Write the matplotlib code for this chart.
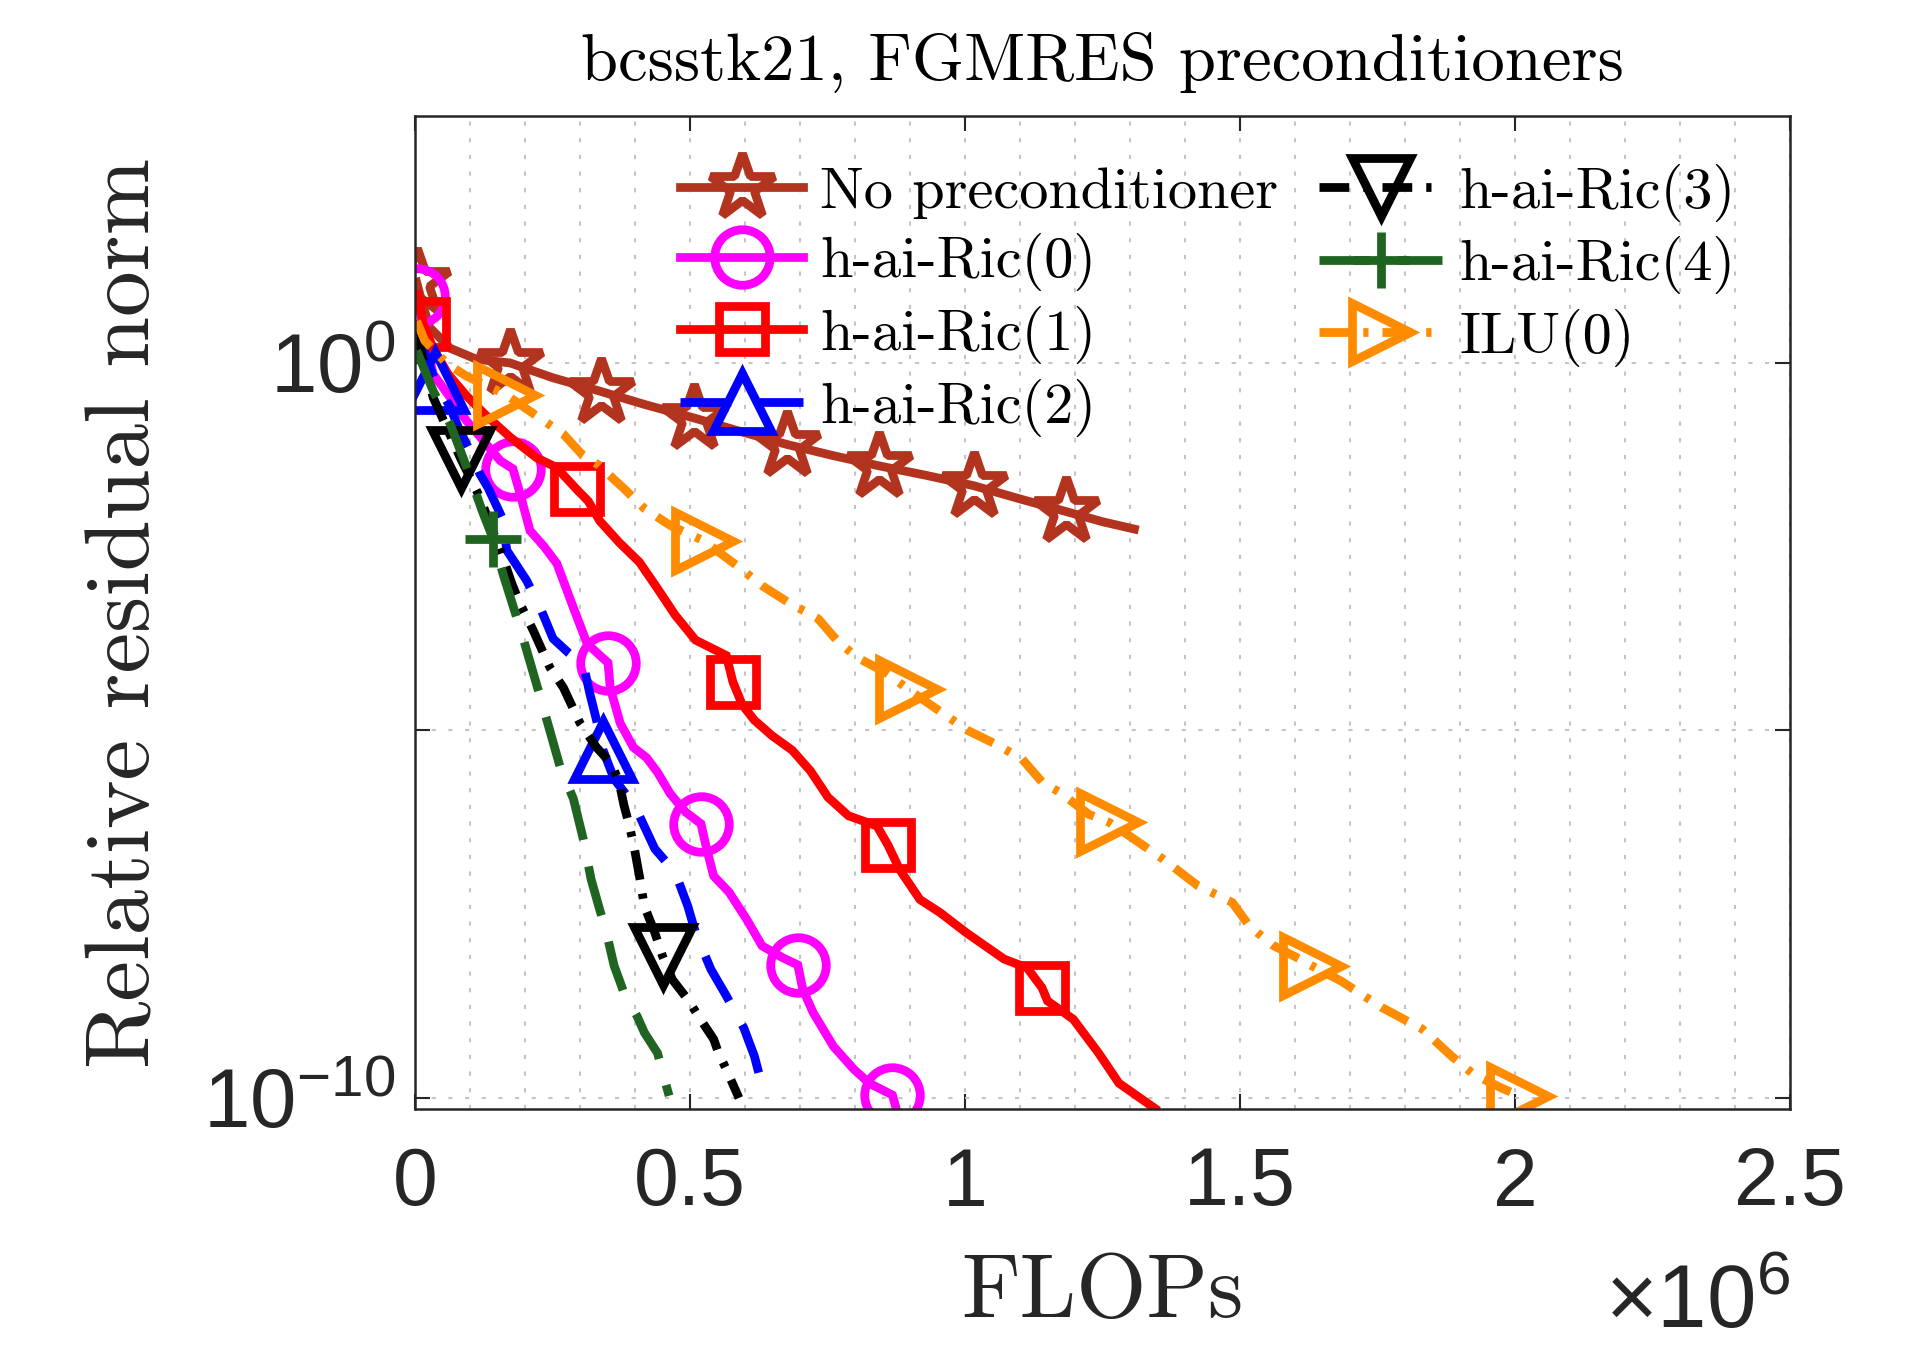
import numpy as np
import matplotlib
matplotlib.use("Agg")
import matplotlib.pyplot as plt
from matplotlib.ticker import MultipleLocator, NullLocator

plt.rcParams['mathtext.fontset'] = 'custom'
plt.rcParams['mathtext.rm'] = 'Liberation Sans'
plt.rcParams['mathtext.it'] = 'Liberation Sans:italic'
plt.rcParams['mathtext.bf'] = 'Liberation Sans:bold'

# ---------------- data (x in units of 1e6 FLOPs, y as log10 of relative residual) ----
labels = ["No preconditioner", "h-ai-Ric(0)", "h-ai-Ric(1)", "h-ai-Ric(2)",
          "h-ai-Ric(3)", "h-ai-Ric(4)", "ILU(0)"]

none_x = [0.003, 0.012, 0.027, 0.064, 0.112, 0.173, 0.25, 0.339, 0.42, 0.508, 0.6,
          0.677, 0.76, 0.844, 0.93, 1.016, 1.1, 1.183, 1.25, 1.308]
none_logy = [1.1, 0.84, 0.48, 0.2, 0.05, 0.0, -0.2, -0.39, -0.57, -0.75, -0.95,
             -1.11, -1.26, -1.4, -1.53, -1.67, -1.85, -2.02, -2.16, -2.26]
none_marks = [0, 5, 7, 9, 11, 13, 15, 17]

ric0_x = [0.003, 0.033, 0.064, 0.094, 0.155, 0.178, 0.19, 0.209, 0.235, 0.258, 0.288,
          0.313, 0.351, 0.355, 0.373, 0.397, 0.421, 0.441, 0.464, 0.492, 0.52, 0.529,
          0.543, 0.571, 0.603, 0.631, 0.668, 0.696, 0.705, 0.724, 0.761, 0.798, 0.826,
          0.868, 0.874]
ric0_logy = [0.91, -0.15, -0.47, -0.79, -1.33, -1.44, -1.75, -2.28, -2.5, -2.73, -3.33,
             -3.82, -4.08, -4.42, -4.9, -5.23, -5.37, -5.57, -5.86, -6.11, -6.27, -6.57,
             -6.98, -7.2, -7.57, -7.93, -8.09, -8.19, -8.52, -8.84, -9.3, -9.61, -9.8,
             -9.96, -10.12]
ric0_marks = [0, 5, 12, 20, 27, 33]

ric1_x = [0.005, 0.015, 0.033, 0.06, 0.094, 0.13, 0.173, 0.221, 0.257, 0.294, 0.315,
          0.336, 0.371, 0.408, 0.441, 0.473, 0.51, 0.566, 0.578, 0.595, 0.617, 0.649,
          0.686, 0.719, 0.751, 0.788, 0.84, 0.86, 0.881, 0.918, 0.955, 1.002, 1.071,
          1.113, 1.14, 1.15, 1.197, 1.243, 1.28, 1.345]
ric1_logy = [0.93, 0.53, 0.2, -0.15, -0.45, -0.72, -1.01, -1.29, -1.42, -1.72, -1.88,
             -2.15, -2.44, -2.71, -3.07, -3.43, -3.77, -3.98, -4.34, -4.65, -4.86, -5.07,
             -5.27, -5.55, -5.91, -6.16, -6.3, -6.56, -6.89, -7.3, -7.48, -7.75, -8.11,
             -8.23, -8.5, -8.68, -8.93, -9.39, -9.8, -10.14]
ric1_marks = [1, 9, 18, 27, 34]

ric2_x = [0.002, 0.02, 0.037, 0.064, 0.079, 0.1, 0.118, 0.133, 0.158, 0.167, 0.203,
          0.23, 0.251, 0.28, 0.306, 0.318, 0.33, 0.342, 0.362, 0.39, 0.408, 0.436,
          0.473, 0.496, 0.51, 0.538, 0.566, 0.598, 0.617, 0.637]
ric2_logy = [0.46, 0.1, -0.25, -0.6, -0.88, -1.2, -1.51, -1.7, -2.1, -2.55, -2.96,
             -3.37, -3.75, -3.95, -4.1, -4.5, -4.86, -5.27, -5.66, -5.93, -6.16, -6.61,
             -6.93, -7.39, -7.75, -8.25, -8.61, -9.05, -9.43, -10.0]
ric2_marks = [2, 17]

ric3_x = [0.002, 0.033, 0.083, 0.118, 0.16, 0.176, 0.19, 0.215, 0.245, 0.27, 0.3,
          0.33, 0.357, 0.371, 0.38, 0.39, 0.399, 0.408, 0.417, 0.436, 0.45, 0.468,
          0.496, 0.519, 0.543, 0.552, 0.566, 0.589]
ric3_logy = [0.42, -0.47, -1.3, -1.83, -2.65, -3.0, -3.26, -3.64, -4.14, -4.42, -4.9,
             -5.23, -5.45, -5.7, -6.02, -6.3, -6.61, -6.98, -7.39, -7.75, -8.07, -8.39,
             -8.66, -8.93, -9.2, -9.39, -9.61, -10.0]
ric3_marks = [2, 20]

ric4_x = [0.003, 0.033, 0.064, 0.094, 0.124, 0.142, 0.16, 0.196, 0.231, 0.264, 0.288,
          0.306, 0.32, 0.334, 0.348, 0.362, 0.38, 0.404, 0.417, 0.441, 0.459, 0.462]
ric4_logy = [0.17, -0.38, -0.83, -1.42, -2.05, -2.39, -2.87, -3.73, -4.63, -5.5, -5.93,
             -6.48, -7.02, -7.39, -7.75, -8.2, -8.57, -8.89, -9.11, -9.39, -9.89, -9.97]
ric4_marks = [5]

ilu_x = [0.003, 0.018, 0.058, 0.094, 0.165, 0.227, 0.27, 0.303, 0.334, 0.38, 0.417,
         0.464, 0.525, 0.584, 0.631, 0.677, 0.733, 0.77, 0.807, 0.853, 0.897, 0.943,
         1.005, 1.057, 1.104, 1.141, 1.172, 1.225, 1.262, 1.298, 1.36, 1.423, 1.486,
         1.517, 1.559, 1.601, 1.63, 1.684, 1.758, 1.831, 1.883, 1.925, 1.977, 2.008]
ilu_logy = [0.57, 0.3, -0.01, -0.18, -0.43, -0.75, -0.97, -1.24, -1.39, -1.71, -1.98,
            -2.21, -2.42, -2.75, -3.03, -3.25, -3.48, -3.8, -4.02, -4.2, -4.44, -4.68,
            -5.0, -5.19, -5.39, -5.71, -5.84, -6.14, -6.25, -6.43, -6.75, -7.11, -7.34,
            -7.66, -7.92, -8.08, -8.2, -8.41, -8.77, -9.06, -9.42, -9.68, -9.87, -9.97]
ilu_marks = [4, 12, 20, 28, 36, 43]

xticks = [0, 0.5, 1, 1.5, 2, 2.5]
xticklabels = ["0", "0.5", "1", "1.5", "2", "2.5"]
yticks = [1e0, 1e-5, 1e-10]
yticklabels = [r"$10^{0}$", "", r"$10^{-10}$"]

# ---------------- figure ----------------
W, H = 1922, 1353
fig = plt.figure(figsize=(W / 100, H / 100), dpi=100)
ax = fig.add_axes([415 / W, (H - 1109) / H, 1375 / W, 993 / H])

LW = 6.3
DASH = (0, (5.8, 3.1))
DASHDOT = (0, (3.4, 1.6, 0.6, 1.6))
series = [
    (none_x, none_logy, none_marks, dict(color="#B3341E", marker="*", ms=49, ls="-")),
    (ric0_x, ric0_logy, ric0_marks, dict(color="#FF00FF", marker="o", ms=40, ls="-")),
    (ric1_x, ric1_logy, ric1_marks, dict(color="#FF0000", marker="s", ms=33, ls="-")),
    (ric2_x, ric2_logy, ric2_marks, dict(color="#0000FF", marker="^", ms=42, ls=DASH)),
    (ric3_x, ric3_logy, ric3_marks, dict(color="#000000", marker="v", ms=42, ls=DASHDOT)),
    (ric4_x, ric4_logy, ric4_marks, dict(color="#1F6420", marker="+", ms=40, ls=DASH)),
    (ilu_x, ilu_logy, ilu_marks, dict(color="#FF8C00", marker=">", ms=42, ls=DASHDOT)),
]

for (xs, ly, mk, st), lab in zip(series, labels):
    ys = 10.0 ** np.array(ly)
    ax.plot(xs, ys, color=st["color"], lw=LW, ls=st["ls"], marker=st["marker"],
            ms=st["ms"], mew=LW, mfc="none", mec=st["color"], markevery=mk,
            label=lab, solid_joinstyle="miter", dash_capstyle="butt")

ax.set_yscale("log")
ax.set_xlim(0, 2.5)
ax.set_ylim(10 ** -10.15, 10 ** 3.36)

ax.set_xticks(xticks)
ax.set_xticklabels(xticklabels)
ax.xaxis.set_minor_locator(MultipleLocator(0.1))
ax.set_yticks(yticks)
ax.set_yticklabels(yticklabels)
ax.yaxis.set_minor_locator(NullLocator())

ax.tick_params(which="major", direction="in", length=11, width=1.5, color="#262626",
               top=True, right=True, labelcolor="#262626")
ax.tick_params(which="minor", length=0, top=True, bottom=True)
ax.tick_params(axis="x", labelsize=58, pad=27)
ax.tick_params(axis="y", labelsize=60, pad=14)
for lbl in ax.get_xticklabels() + ax.get_yticklabels():
    lbl.set_fontfamily("Liberation Sans")

for s in ax.spines.values():
    s.set_color("#262626")
    s.set_linewidth(1.8)

grid_kw = dict(color="#c4c4c4", lw=1.5, ls=(0, (2, 6)))
ax.grid(True, which="major", axis="both", **grid_kw)
ax.grid(True, which="minor", axis="x", **grid_kw)
ax.set_axisbelow(True)

ax.text(0.5, 1.036, "bcsstk21, FGMRES preconditioners", transform=ax.transAxes,
        ha="center", va="baseline", fontsize=48, family="cmr10", color="black")
ax.set_xlabel("FLOPs", fontsize=65, family="cmr10", color="#262626")
ax.xaxis.set_label_coords(0.5, -0.145)
ax.xaxis.label.set_va("top")
ax.set_ylabel("Relative residual norm", fontsize=66, family="cmr10", color="#262626")
ax.yaxis.set_label_coords(-0.18, 0.5)

fig.text(1790 / W, 1 - 1328 / H, r"$\times10^{6}$", ha="right", va="baseline",
         fontsize=64, color="#262626")

leg = ax.legend(ncol=2, loc="upper left", bbox_to_anchor=(0.193, 0.952), frameon=False,
                prop={"family": "cmr10", "size": 42}, handlelength=2.1,
                handletextpad=0.3, columnspacing=0.7, labelspacing=0.25,
                borderpad=0, borderaxespad=0, numpoints=1)

fig.savefig("out.png", dpi=100)
